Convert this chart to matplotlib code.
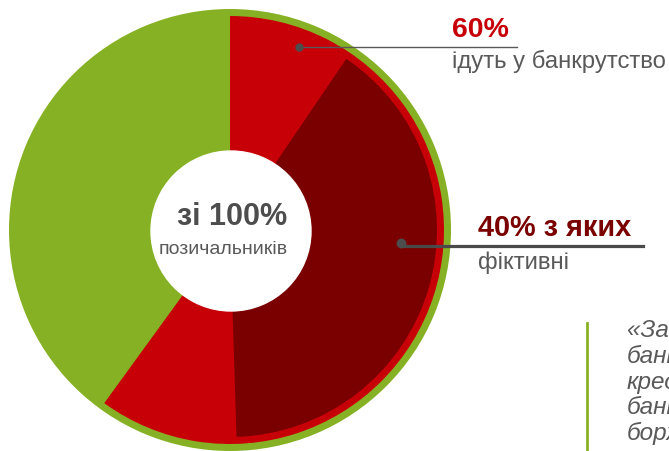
import matplotlib
matplotlib.use('Agg')
import matplotlib.pyplot as plt

# data
total_share = [100]
bankrupt_share = [60, 40]          # bankrupt vs rest
fictitious_share = [9.5, 40, 50.5]  # lead-in, fictitious, rest
labels_top = ['60%', 'ідуть у банкрутство']
labels_mid = ['40% з яких', 'фіктивні']
center_labels = ['зі 100%', 'позичальників']
quote_lines = ['«За даними', 'банків,', 'кредиторів', 'банкрутство', 'боржників']

GREEN = '#87B124'
RED = '#C70008'
DARK = '#7A0000'
GREY = '#595959'

plt.rcParams['font.family'] = ['Liberation Sans', 'DejaVu Sans']

W, H = 669, 451
fig = plt.figure(figsize=(W / 100, H / 100), dpi=100)
ax = fig.add_axes([0, 0, 1, 1])

cx, cy = 230, 221

ax.pie(total_share, colors=[GREEN], radius=221, center=(cx, cy), startangle=90,
       counterclock=False, wedgeprops=dict(linewidth=0))
ax.pie(bankrupt_share, colors=[RED, 'none'], radius=214, center=(cx, cy), startangle=90,
       counterclock=False, wedgeprops=dict(linewidth=0))
ax.pie(fictitious_share, colors=['none', DARK, 'none'], radius=207, center=(cx, cy),
       startangle=90, counterclock=False, wedgeprops=dict(linewidth=0))
ax.add_patch(plt.Circle((cx + 1, cy - 1), 80, color='white', zorder=5))

ax.set_xlim(0, W)
ax.set_ylim(0, H)
ax.set_aspect('auto')
ax.axis('off')

# centre text
ax.text(232, 226, center_labels[0], ha='center', va='baseline', fontsize=22,
        fontweight='bold', color='#4d4d4d', zorder=6)
ax.text(223, 197, center_labels[1], ha='center', va='baseline', fontsize=14,
        color=GREY, zorder=6)

# callout 1
ax.plot([299, 517], [404.5, 404.5], color=GREY, lw=1, zorder=6)
ax.plot(299, 404.5, 'o', color='#4d4d4d', ms=5, zorder=7)
ax.text(452, 414, labels_top[0], fontsize=20.5, fontweight='bold', color=RED, va='baseline')
ax.text(452, 383, labels_top[1], fontsize=17.2, color=GREY, va='baseline')

# callout 2
ax.plot([401, 643], [205, 205], color='#4a4a4a', lw=2.3, zorder=6)
ax.plot(401, 208.5, 'o', color='#4d4d4d', ms=6, zorder=7)
ax.text(478, 215, labels_mid[0], fontsize=20.8, fontweight='bold', color=DARK, va='baseline')
ax.text(478, 182, labels_mid[1], fontsize=17.2, color=GREY, va='baseline')

# quote (cut off by the right edge, as in the source)
ax.plot([587, 587], [0, 128], color=GREEN, lw=2, clip_on=False)
for i, line in enumerate(quote_lines):
    ax.text(627, 114 - i * 25.8, line, fontsize=17.5, style='italic', color=GREY,
            va='baseline', clip_on=False)

fig.savefig('out.png', dpi=100)
